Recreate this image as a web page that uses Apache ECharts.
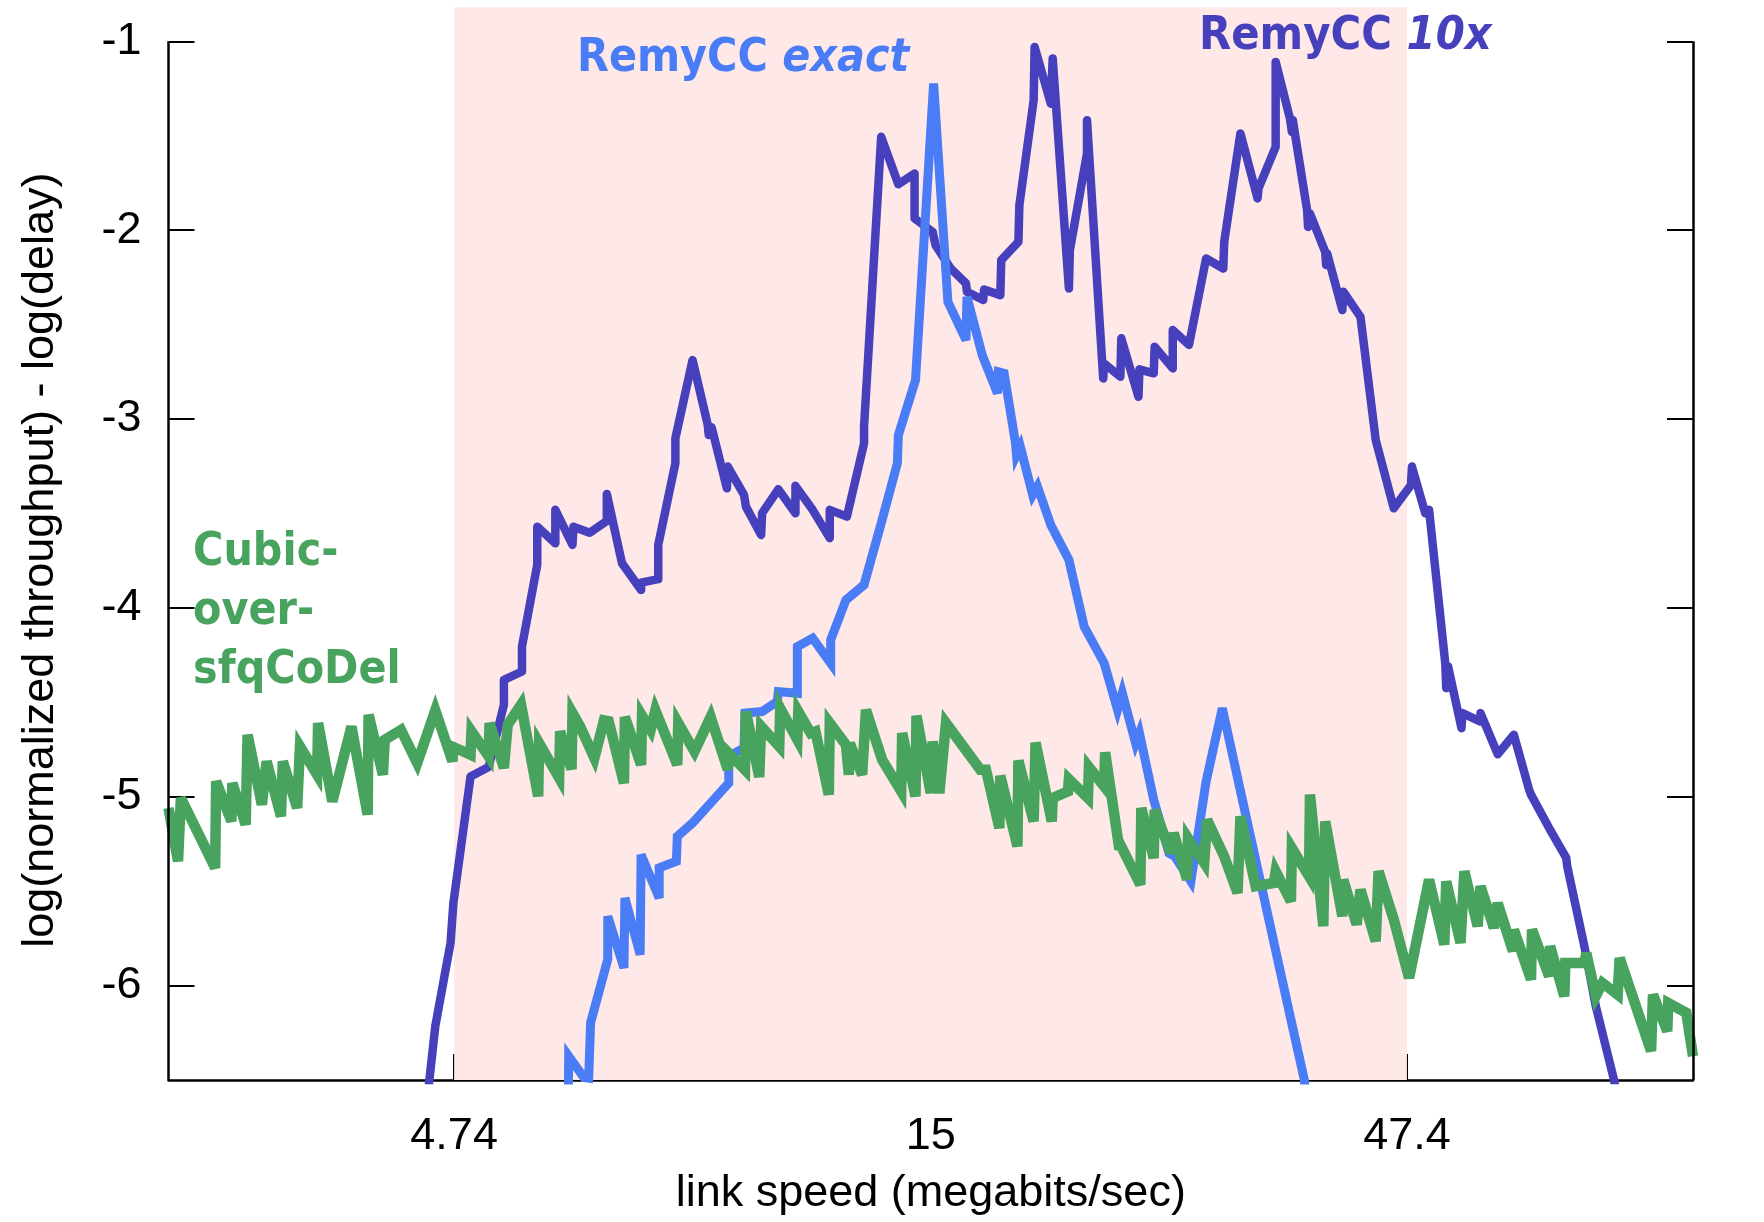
<!DOCTYPE html>
<html>
<head>
<meta charset="utf-8">
<script src="https://cdn.jsdelivr.net/npm/echarts@6/dist/echarts.min.js"></script>
<style>
  html, body { margin: 0; padding: 0; background: #ffffff; }
  #chart { width: 1764px; height: 1222px; }
</style>
</head>
<body>
<div id="chart"></div>
<script>
// Link speeds are kept as log10(Mbps); scores are log(normalized throughput) - log(delay).
const speedTicks = [4.74, 15, 47.4];          // labelled link speeds (Mbps)
const scoreTicks = [-1, -2, -3, -4, -5, -6];  // labelled score values
const trainedRange = [4.74, 47.4];            // shaded link-speed band (Mbps)

const remy10xLog10Mbps = [0.645,0.656,0.672,0.675,0.693,0.712,0.728,0.728,0.747,0.747,
  0.763,0.763,0.782,0.782,0.800,0.801,0.818,0.836,0.836,0.852,
  0.872,0.872,0.890,0.890,0.908,0.908,0.926,0.942,0.943,0.946,
  0.962,0.963,0.980,0.982,0.998,0.999,1.016,1.034,1.034,1.052,
  1.070,1.070,1.088,1.106,1.106,1.124,1.142,1.159,1.159,1.178,
  1.181,1.197,1.213,1.214,1.231,1.232,1.249,1.250,1.268,1.269,
  1.284,1.285,1.302,1.304,1.321,1.322,1.340,1.340,1.357,1.358,
  1.375,1.376,1.394,1.395,1.410,1.411,1.430,1.430,1.447,1.465,
  1.483,1.484,1.501,1.519,1.520,1.538,1.538,1.553,1.555,1.556,
  1.571,1.572,1.574,1.590,1.591,1.592,1.608,1.609,1.627,1.643,
  1.662,1.680,1.681,1.695,1.699,1.716,1.717,1.719,1.733,1.734,
  1.753,1.753,1.771,1.788,1.804,1.806,1.825,1.843,1.844,1.862,
  1.874,1.893,1.900];
const remy10xScore = [-6.72,-6.215,-5.774,-5.563,-4.893,-4.843,-4.513,-4.381,-4.337,-4.205,
  -3.772,-3.570,-3.658,-3.481,-3.667,-3.570,-3.602,-3.540,-3.397,-3.764,
  -3.905,-3.866,-3.848,-3.667,-3.234,-3.102,-2.688,-3.032,-3.085,-3.044,
  -3.367,-3.252,-3.402,-3.464,-3.614,-3.499,-3.372,-3.499,-3.354,-3.481,
  -3.631,-3.481,-3.517,-3.129,-3.041,-1.506,-1.757,-1.700,-1.938,-2.009,
  -2.079,-2.203,-2.282,-2.326,-2.370,-2.314,-2.344,-2.159,-2.062,-1.868,
  -1.312,-1.030,-1.330,-1.091,-2.309,-2.106,-1.594,-1.418,-2.785,-2.706,
  -2.776,-2.573,-2.882,-2.737,-2.758,-2.617,-2.732,-2.529,-2.608,-2.150,
  -2.203,-2.062,-1.488,-1.832,-1.779,-1.559,-1.109,-1.409,-1.480,-1.418,
  -1.894,-1.983,-1.912,-2.115,-2.185,-2.123,-2.423,-2.326,-2.459,-3.111,
  -3.473,-3.349,-3.252,-3.499,-3.481,-4.293,-4.425,-4.311,-4.637,-4.557,
  -4.602,-4.557,-4.775,-4.672,-4.963,-4.989,-5.166,-5.324,-5.369,-5.792,
  -6.110,-6.497,-6.70];

const remyExactLog10Mbps = [0.795,0.796,0.812,0.817,0.819,0.837,0.837,0.854,0.855,0.871,
  0.872,0.891,0.891,0.909,0.910,0.926,0.945,0.964,0.964,0.980,
  0.981,0.999,1.015,1.016,1.036,1.036,1.052,1.071,1.071,1.087,
  1.106,1.124,1.141,1.142,1.160,1.179,1.194,1.213,1.214,1.230,
  1.246,1.247,1.253,1.265,1.266,1.270,1.283,1.288,1.302,1.321,
  1.337,1.358,1.360,1.372,1.377,1.391,1.395,1.410,1.426,1.432,
  1.449,1.465,1.482,1.500,1.554,1.568,1.573];
const remyExactScore = [-7.0,-6.374,-6.487,-6.49,-6.197,-5.862,-5.633,-5.906,-5.536,-5.836,
  -5.307,-5.536,-5.377,-5.342,-5.210,-5.139,-5.033,-4.928,-4.787,-4.742,
  -4.557,-4.549,-4.496,-4.443,-4.452,-4.205,-4.160,-4.293,-4.169,-3.958,
  -3.878,-3.552,-3.234,-3.085,-2.794,-1.224,-2.380,-2.582,-2.353,-2.661,
  -2.864,-2.750,-2.758,-3.129,-3.190,-3.147,-3.402,-3.358,-3.561,-3.746,
  -4.099,-4.293,-4.328,-4.540,-4.451,-4.716,-4.663,-5.016,-5.298,-5.316,
  -5.448,-4.919,-4.531,-4.946,-6.180,-6.497,-6.75];

const cubicLog10Mbps = [0.376,0.386,0.389,0.425,0.426,0.442,0.443,0.457,0.459,0.474,
  0.479,0.494,0.496,0.511,0.514,0.532,0.533,0.548,0.568,0.585,
  0.586,0.601,0.603,0.620,0.637,0.656,0.674,0.675,0.693,0.694,
  0.712,0.713,0.728,0.732,0.746,0.764,0.765,0.786,0.787,0.799,
  0.800,0.808,0.823,0.833,0.838,0.854,0.855,0.872,0.873,0.882,
  0.887,0.910,0.911,0.928,0.945,0.963,0.964,0.981,0.982,0.996,
  0.998,1.017,1.018,1.036,1.037,1.050,1.055,1.069,1.070,1.087,
  1.090,1.091,1.104,1.108,1.125,1.145,1.146,1.160,1.161,1.176,
  1.178,1.185,1.192,1.228,1.234,1.248,1.249,1.267,1.268,1.284,
  1.286,1.303,1.304,1.320,1.321,1.341,1.342,1.358,1.359,1.374,
  1.375,1.396,1.397,1.410,1.411,1.428,1.431,1.445,1.446,1.463,
  1.466,1.484,1.498,1.501,1.517,1.536,1.538,1.554,1.555,1.573,
  1.574,1.588,1.590,1.608,1.609,1.623,1.627,1.643,1.646,1.662,
  1.678,1.699,1.715,1.717,1.732,1.736,1.750,1.753,1.767,1.771,
  1.787,1.788,1.806,1.807,1.825,1.826,1.841,1.842,1.862,1.864,
  1.874,1.881,1.897,1.899,1.932,1.934,1.949,1.950,1.969,1.970,
  1.976];
const cubicScore = [-5.060,-5.342,-5.007,-5.377,-4.919,-5.131,-4.928,-5.148,-4.672,-5.042,
  -4.813,-5.104,-4.813,-5.060,-4.734,-4.884,-4.610,-5.025,-4.628,-5.095,
  -4.566,-4.884,-4.698,-4.646,-4.822,-4.543,-4.813,-4.737,-4.778,-4.654,
  -4.787,-4.610,-4.848,-4.619,-4.513,-4.998,-4.716,-4.901,-4.654,-4.854,
  -4.557,-4.628,-4.795,-4.596,-4.601,-4.928,-4.578,-4.831,-4.571,-4.646,
  -4.543,-4.831,-4.610,-4.760,-4.578,-4.857,-4.769,-4.857,-4.549,-4.896,
  -4.628,-4.734,-4.531,-4.698,-4.549,-4.663,-4.654,-4.989,-4.610,-4.725,
  -4.884,-4.716,-4.884,-4.540,-4.804,-4.972,-4.663,-4.998,-4.571,-4.981,
  -4.707,-4.981,-4.610,-4.857,-4.857,-5.166,-4.889,-5.263,-4.808,-5.131,
  -4.713,-5.131,-5.007,-4.972,-4.907,-5.007,-4.843,-4.945,-4.765,-5.280,
  -5.254,-5.466,-5.060,-5.325,-5.069,-5.298,-5.192,-5.439,-5.219,-5.351,
  -5.122,-5.316,-5.510,-5.104,-5.474,-5.457,-5.395,-5.554,-5.272,-5.422,
  -4.989,-5.686,-5.131,-5.633,-5.439,-5.677,-5.492,-5.765,-5.395,-5.651,
  -5.959,-5.439,-5.783,-5.448,-5.774,-5.395,-5.686,-5.474,-5.695,-5.563,
  -5.818,-5.704,-5.968,-5.704,-5.951,-5.792,-6.057,-5.880,-5.880,-5.827,
  -6.056,-5.986,-6.048,-5.854,-6.347,-6.048,-6.242,-6.092,-6.145,-6.136,
  -6.374];

// Plot extents: log10(Mbps) across the x axis, score on the y axis.
const xExtent = [0.376, 1.976];
const yExtent = [-6.5, -0.82];
const frameTopScore = -1;

const COLOR_10X = '#4640BD';
const COLOR_EXACT = '#4A7CF6';
const COLOR_CUBIC = '#47A35D';
const AXIS_FONT = "'Liberation Sans', Arial, sans-serif";
const LABEL_FONT = "'DejaVu Sans', sans-serif";

const pairs = (xs, ys) => xs.map((x, i) => [x, ys[i]]);
const speedTickPos = speedTicks.map(s => Math.log10(s));

const chart = echarts.init(document.getElementById('chart'), null, { renderer: 'canvas' });

const tickStyle = { color: '#000', width: 2 };

chart.setOption({
  animation: false,
  backgroundColor: '#ffffff',
  grid: { left: 168.5, right: 71, top: 7.3, bottom: 142, containLabel: false, outerBoundsMode: 'none' },
  xAxis: {
    type: 'value',
    min: xExtent[0],
    max: xExtent[1],
    axisLine: { show: true, onZero: false, lineStyle: { color: '#000', width: 2.5 } },
    axisTick: { show: true, inside: true, length: 26, lineStyle: tickStyle, customValues: speedTickPos },
    axisLabel: {
      customValues: speedTickPos,
      margin: 34,
      color: '#000',
      fontSize: 45,
      fontFamily: AXIS_FONT,
      formatter: v => {
        const s = speedTicks.find(t => Math.abs(Math.log10(t) - v) < 1e-6);
        return s === undefined ? '' : String(s);
      }
    },
    splitLine: { show: false },
    name: 'link speed (megabits/sec)',
    nameLocation: 'middle',
    nameGap: 91,
    nameTextStyle: { color: '#000', fontSize: 45, fontFamily: AXIS_FONT }
  },
  yAxis: [
    {
      type: 'value',
      position: 'left',
      min: yExtent[0],
      max: yExtent[1],
      axisLine: { show: false },
      axisTick: { show: true, inside: true, length: 26, lineStyle: tickStyle, customValues: scoreTicks },
      axisLabel: { customValues: scoreTicks, margin: 27, color: '#000', fontSize: 45, fontFamily: AXIS_FONT },
      splitLine: { show: false },
      name: 'log(normalized throughput) - log(delay)',
      nameLocation: 'middle',
      nameGap: 105,
      nameTextStyle: { color: '#000', fontSize: 45, fontFamily: AXIS_FONT, padding: [0, 33, 0, 0] }
    },
    {
      type: 'value',
      position: 'right',
      min: yExtent[0],
      max: yExtent[1],
      axisLine: { show: false },
      axisTick: { show: true, inside: true, length: 26, lineStyle: tickStyle, customValues: scoreTicks },
      axisLabel: { show: false },
      splitLine: { show: false }
    }
  ],
  series: [
    {
      // shaded link-speed band and the left/right frame lines
      type: 'line',
      data: [],
      clip: false,
      silent: true,
      z: 1,
      markArea: {
        silent: true,
        itemStyle: { color: '#FEE8E8' },
        data: [[{ xAxis: Math.log10(trainedRange[0]) }, { xAxis: Math.log10(trainedRange[1]) }]]
      },
      markLine: {
        silent: true,
        symbol: ['none', 'none'],
        label: { show: false },
        lineStyle: { color: '#000', width: 2.5, type: 'solid' },
        data: [
          [{ coord: [xExtent[0], yExtent[0]] }, { coord: [xExtent[0], frameTopScore] }],
          [{ coord: [xExtent[1], yExtent[0]] }, { coord: [xExtent[1], frameTopScore] }]
        ]
      }
    },
    {
      name: 'RemyCC 10x',
      type: 'line',
      data: pairs(remy10xLog10Mbps, remy10xScore),
      symbol: 'none',
      clip: true,
      silent: true,
      z: 2,
      lineStyle: { color: COLOR_10X, width: 8.5, join: 'round', cap: 'round' }
    },
    {
      name: 'RemyCC exact',
      type: 'line',
      data: pairs(remyExactLog10Mbps, remyExactScore),
      symbol: 'none',
      clip: true,
      silent: true,
      z: 3,
      lineStyle: { color: COLOR_EXACT, width: 9, join: 'miter', miterLimit: 4 }
    },
    {
      name: 'Cubic-over-sfqCoDel',
      type: 'line',
      data: pairs(cubicLog10Mbps, cubicScore),
      symbol: 'none',
      clip: true,
      silent: true,
      z: 4,
      lineStyle: { color: COLOR_CUBIC, width: 10.5, join: 'miter', miterLimit: 4 }
    }
  ],
  graphic: [
    {
      type: 'text',
      x: 577, y: 59, scaleX: 0.9,
      style: {
        text: '{a|RemyCC }{b|exact}',
        fill: COLOR_EXACT,
        verticalAlign: 'middle',
        rich: {
          a: { fontSize: 46, fontWeight: 'bold', fontFamily: LABEL_FONT, fill: COLOR_EXACT },
          b: { fontSize: 46, fontWeight: 'bold', fontStyle: 'italic', fontFamily: LABEL_FONT, fill: COLOR_EXACT }
        }
      },
      z: 10
    },
    {
      type: 'text',
      x: 1199, y: 37, scaleX: 0.91,
      style: {
        text: '{a|RemyCC }{b|10x}',
        fill: COLOR_10X,
        verticalAlign: 'middle',
        rich: {
          a: { fontSize: 46, fontWeight: 'bold', fontFamily: LABEL_FONT, fill: COLOR_10X },
          b: { fontSize: 46, fontWeight: 'bold', fontStyle: 'italic', fontFamily: LABEL_FONT, fill: COLOR_10X }
        }
      },
      z: 10
    },
    {
      type: 'text',
      x: 193, y: 524, scaleX: 0.9,
      style: {
        text: 'Cubic-\nover-\nsfqCoDel',
        fill: COLOR_CUBIC,
        fontSize: 46,
        fontWeight: 'bold',
        fontFamily: LABEL_FONT,
        lineHeight: 59,
        verticalAlign: 'top'
      },
      z: 10
    }
  ]
});
</script>
</body>
</html>
